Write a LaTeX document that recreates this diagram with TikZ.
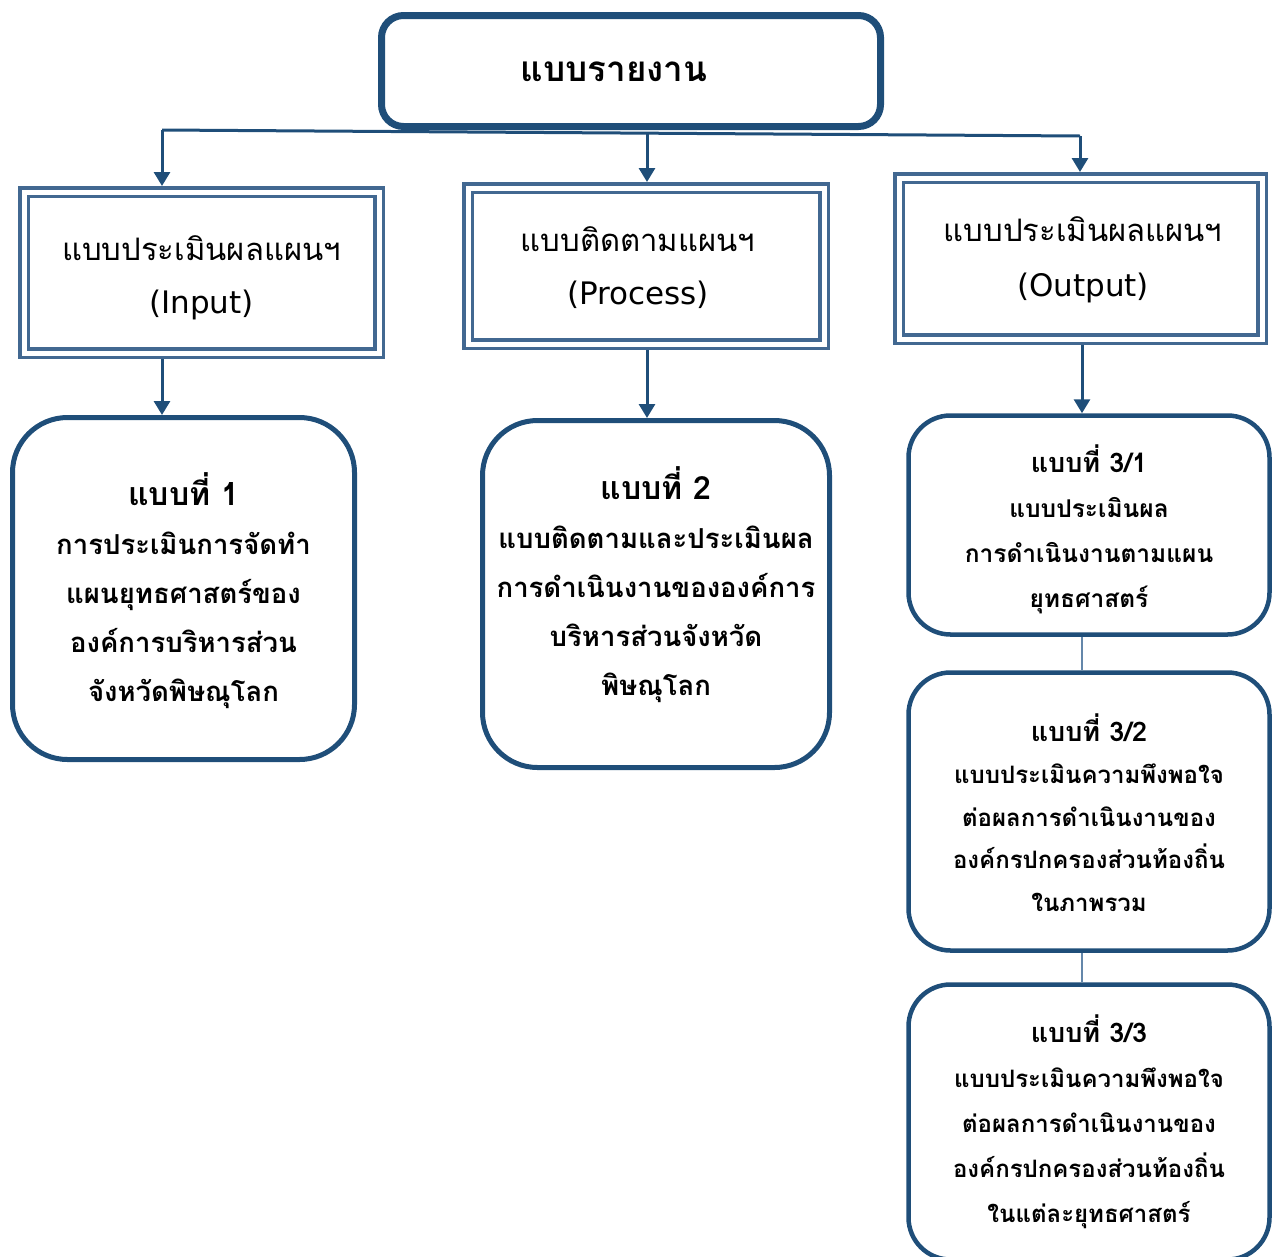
\documentclass[tikz,border=0pt]{standalone}
\usepackage{fontspec}
\newfontfamily\thaifont[Script=Thai]{Loma}
\newfontfamily\latfont{DejaVu Sans}
\usetikzlibrary{arrows.meta}
\definecolor{navy}{RGB}{31,78,121}
\definecolor{steel}{RGB}{66,104,145}
\definecolor{thinc}{RGB}{100,135,170}
\newcommand{\hdr}[1]{{\fontsize{27}{45}\selectfont #1}}
\begin{document}
\begin{tikzpicture}[x=1pt,y=-1pt,
 topbox/.style={draw=navy, line width=7pt, rounded corners=22pt, minimum width=499pt, minimum height=111pt},
 toptext/.style={font=\thaifont\bfseries\fontsize{35}{40}\selectfont},
 dbox/.style={draw=steel, double, line width=3.5pt, double distance=5pt, outer sep=6pt},
 dtext/.style={align=center, font=\thaifont\fontsize{31}{53}\selectfont},
 rbox/.style={draw=navy, line width=5pt, rounded corners=55pt},
 rtext/.style={align=center, font=\thaifont\bfseries\fontsize{27.5}{49}\selectfont},
 sbox/.style={draw=navy, line width=4.5pt, rounded corners=42pt, minimum width=361pt},
 stext/.style={align=center, font=\thaifont\bfseries\fontsize{24}{45}\selectfont},
 arr/.style={draw=navy, line width=3pt, -{Triangle[width=16pt,length=14pt]}},
 link/.style={draw=navy, line width=3pt},
 thinlink/.style={draw=thinc, line width=2pt}]
\useasboundingbox (0,0) rectangle (1274,1256);
\clip (0,0) rectangle (1274,1256);
% connectors from top
\coordinate (jL) at (162,130);
\coordinate (jM) at (647,133);
\coordinate (jR) at (1080,136);
\draw[link] (jL) -- (jR);
\node[topbox] (top) at (631,71) {};
\node[toptext] (toptx) at (614,72) {แบบรายงาน};
% level 2
\node[dbox, minimum width=355pt, minimum height=161pt] (in) at (201.5,272.5) {};
\node[dtext] (intx) at (201.5,277.5) {แบบประเมินผลแผนฯ\\{\latfont (Input)}};
\node[dbox, minimum width=356pt, minimum height=156pt] (pr) at (646,266) {};
\node[dtext] (prtx) at (638,267.5) {แบบติดตามแผนฯ\\{\latfont (Process)}};
\node[dbox, minimum width=363pt, minimum height=161pt] (out) at (1080.5,258.5) {};
\node[dtext, font=\thaifont\fontsize{31}{55}\selectfont] (outtx) at (1083,259.5) {แบบประเมินผลแผนฯ\\{\latfont (Output)}};
\draw[arr] (jL) -- (jL |- in.north);
\draw[arr] (jM) -- (jM |- pr.north);
\draw[arr] (jR) -- (jR |- out.north);
% level 3
\node[rbox, minimum width=342pt, minimum height=342pt] (b1) at (183.5,588.5) {};
\node[rtext] (b1t) at (183.5,591) {{\fontsize{32}{49}\selectfont แบบที่ 1}\\การประเมินการจัดทำ\\แผนยุทธศาสตร์ของ\\องค์การบริหารส่วน\\จังหวัดพิษณุโลก};
\node[rbox, minimum width=347pt, minimum height=347pt] (b2) at (656,594) {};
\node[rtext] (b2t) at (656,584.5) {{\fontsize{32}{49}\selectfont แบบที่ 2}\\แบบติดตามและประเมินผล\\การดำเนินงานขององค์การ\\บริหารส่วนจังหวัด\\พิษณุโลก};
\node[sbox, minimum height=219pt] (b31) at (1089,525) {};
\node[stext, font=\thaifont\bfseries\fontsize{24.5}{45}\selectfont] (b31t) at (1089,529.5) {\hdr{แบบที่ 3/1}\\แบบประเมินผล\\การดำเนินงานตามแผน\\ยุทธศาสตร์};
\node[sbox, minimum height=278pt] (b32) at (1089,811.5) {};
\node[stext, font=\thaifont\bfseries\fontsize{24}{42.5}\selectfont] (b32t) at (1089,812.5) {\hdr{แบบที่ 3/2}\\แบบประเมินความพึงพอใจ\\ต่อผลการดำเนินงานของ\\องค์กรปกครองส่วนท้องถิ่น\\ในภาพรวม};
\node[sbox, minimum height=275pt] (b33) at (1089,1122) {};
\node[stext] (b33t) at (1089,1121.5) {\hdr{แบบที่ 3/3}\\แบบประเมินความพึงพอใจ\\ต่อผลการดำเนินงานของ\\องค์กรปกครองส่วนท้องถิ่น\\ในแต่ละยุทธศาสตร์};
\draw[arr] (in.south -| jL) -- (b1.north -| jL);
\draw[arr] (pr.south -| jM) -- (b2.north -| jM);
\draw[arr] (out.south -| 1082,0) -- (b31.north -| 1082,0);
\draw[thinlink] (b31.south -| 1082,0) -- (b32.north -| 1082,0);
\draw[thinlink] (b32.south -| 1082,0) -- (b33.north -| 1082,0);
\end{tikzpicture}
\end{document}
